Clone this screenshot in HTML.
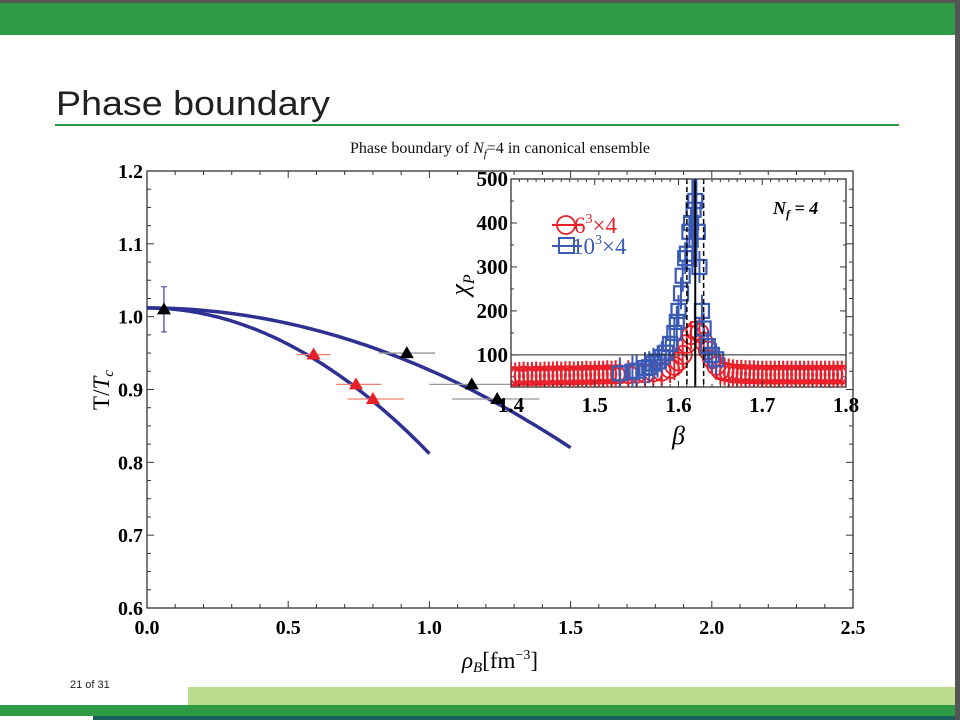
<!DOCTYPE html>
<html><head><meta charset="utf-8"><style>
body{margin:0;width:960px;height:720px;overflow:hidden;background:#fff;font-family:"Liberation Serif",serif}
svg text{font-family:"Liberation Serif",serif}
</style></head><body>
<svg id="s" width="960" height="720" viewBox="0 0 960 720" xmlns="http://www.w3.org/2000/svg">
<rect x="0" y="0" width="960" height="3" fill="#555"/>
<rect x="0" y="3" width="955" height="32" fill="#2f9a46"/>
<rect x="955" y="0" width="5" height="720" fill="#555"/>
<text x="56" y="115" font-size="34" fill="#222" style="font-family:'Liberation Sans',sans-serif" textLength="274" lengthAdjust="spacingAndGlyphs">Phase boundary</text>
<rect x="55" y="124" width="844" height="2" fill="#2f9a46"/>
<text x="500" y="153" font-size="16" text-anchor="middle" fill="#111">Phase boundary of <tspan font-style="italic">N</tspan><tspan font-style="italic" font-size="11" dy="4">f</tspan><tspan dy="-4">=4 in canonical ensemble</tspan></text>
<g id="main"></g>
<g id="inset"></g>
<text x="70" y="688" font-size="11" fill="#222" style="font-family:'Liberation Sans',sans-serif">21 of 31</text>
<rect x="188" y="687" width="767" height="18" fill="#bcdc8d"/>
<rect x="0" y="705" width="955" height="11" fill="#2f9a46"/>
<rect x="93" y="716" width="862" height="4" fill="#15605a"/>
</svg>
<script>
// Main chart data
const blackRho=[0.06,0.92,1.15,1.24];
const blackT=[1.01,0.95,0.907,0.887];
const blackXLo=[0.06,0.82,1.0,1.08];
const blackXHi=[0.06,1.02,1.4,1.39];
const blackYErr=[0.031,0,0,0];
const redRho=[0.59,0.74,0.80];
const redT=[0.948,0.907,0.887];
const redXLo=[0.53,0.67,0.71];
const redXHi=[0.65,0.83,0.91];
const fitT0=[1.012,1.012];
const fitA=[0.0853,0.2];
const fitEnd=[1.5,1.0];
const xTicks=["0.0","0.5","1.0","1.5","2.0","2.5"];
const yTicks=["0.6","0.7","0.8","0.9","1.0","1.1","1.2"];
// Inset data
const redBeta=[1.40,1.405,1.41,1.415,1.42,1.425,1.43,1.435,1.44,1.445,1.45,1.455,1.46,1.465,1.47,1.475,1.48,1.485,1.49,1.495,1.50,1.505,1.51,1.515,1.52,1.525,1.53,1.54,1.55,1.56,1.57,1.58,1.59,1.595,1.60,1.605,1.61,1.615,1.62,1.625,1.63,1.635,1.64,1.645,1.65,1.655,1.66,1.665,1.67,1.675,1.68,1.685,1.69,1.695,1.70,1.705,1.71,1.715,1.72,1.725,1.73,1.735,1.74,1.745,1.75,1.755,1.76,1.765,1.77,1.775,1.78,1.785,1.79,1.795,1.80];
const redChi=[52,51,52,53,52,52,53,52,53,53,53,54,53,54,54,53,54,54,55,54,55,55,55,56,55,56,56,56,57,58,60,62,68,75,85,100,125,145,155,150,130,110,90,75,65,62,60,58,57,57,56,56,56,55,55,55,55,55,55,55,55,55,55,55,55,55,55,55,55,55,55,55,55,55,55];
const blueBeta=[1.53,1.545,1.55,1.56,1.565,1.57,1.575,1.58,1.585,1.59,1.595,1.598,1.60,1.603,1.605,1.608,1.61,1.613,1.615,1.618,1.62,1.623,1.625,1.628,1.63,1.635,1.64,1.645];
const blueChi=[58,62,64,70,72,80,85,95,105,125,150,175,200,240,280,320,330,380,400,430,450,380,300,200,160,120,100,90];
const insXTicks=["1.4","1.5","1.6","1.7","1.8"];
const insYTicks=["100","200","300","400","500"];

const NS="http://www.w3.org/2000/svg";
function mk(p,t,a){const e=document.createElementNS(NS,t);for(const k in a)e.setAttribute(k,a[k]);p.appendChild(e);return e;}
const main=document.getElementById('main');
const X0=147,X1=853,Y0=608,Y1=171;
const sx=v=>X0+(v-0)/2.5*(X1-X0);
const sy=v=>Y0-(v-0.6)/0.6*(Y0-Y1);
let r=mk(main,'rect',{x:X0,y:Y1,width:X1-X0,height:Y0-Y1,fill:'none',stroke:'#333','stroke-width':1.3});


for(let i=0;i<=25;i++){const v=i*0.1,x=sx(v),L=i%5==0?7:4;
 mk(main,'line',{x1:x,y1:Y0,x2:x,y2:Y0-L,stroke:'#333'});mk(main,'line',{x1:x,y1:Y1,x2:x,y2:Y1+L,stroke:'#333'});}
for(let i=0;i<=24;i++){const v=0.6+i*0.025,y=sy(v),L=i%4==0?7:4;
 mk(main,'line',{x1:X0,y1:y,x2:X0+L,y2:y,stroke:'#333'});mk(main,'line',{x1:X1,y1:y,x2:X1-L,y2:y,stroke:'#333'});}
xTicks.forEach(t=>{const e=mk(main,'text',{x:sx(+t),y:Y0+26,'font-size':20,'font-weight':'bold','text-anchor':'middle'});e.textContent=t;
 
 });
yTicks.forEach(t=>{const e=mk(main,'text',{x:X0-4,y:sy(+t)+7,'font-size':20,'font-weight':'bold','text-anchor':'end'});e.textContent=t;
 
 });
let yt=mk(main,'text',{x:0,y:0,'font-size':23,transform:'translate(109,390) rotate(-90)','text-anchor':'middle'});
yt.innerHTML='T/<tspan font-style="italic">T</tspan><tspan font-style="italic" font-size="15" dy="4">c</tspan>';


let xt=mk(main,'text',{x:500,y:668,'font-size':23,'text-anchor':'middle'});
xt.innerHTML='<tspan font-style="italic">ρ</tspan><tspan font-style="italic" font-size="15" dy="4">B</tspan><tspan dy="-4">[fm</tspan><tspan font-size="14" dy="-9">−3</tspan><tspan dy="9">]</tspan>';


fitT0.forEach((t0,k)=>{let d='';for(let i=0;i<=60;i++){const rr=fitEnd[k]*i/60;d+=(i?'L':'M')+sx(rr).toFixed(1)+','+sy(t0-fitA[k]*rr*rr).toFixed(1);}
 const p=mk(main,'path',{d:d,fill:'none',stroke:'#2e3192','stroke-width':3.5});
 
 });
function tri(g,x,y,c){return mk(g,'path',{d:`M${x},${y-7}L${x+7},${y+5}L${x-7},${y+5}Z`,fill:c});}

// Inset
const ins=document.getElementById('inset');
const IX0=511,IX1=846,IY0=387,IY1=179;
const ix=v=>IX0+(v-1.4)/0.4*(IX1-IX0);
const iy=v=>IY0-(v-27)/(500-27)*(IY0-IY1);
let ib=mk(ins,'rect',{x:IX0,y:IY1,width:IX1-IX0,height:IY0-IY1,fill:'#fff',stroke:'#333','stroke-width':1.3});


blackRho.forEach((v,i)=>{
 if(blackXHi[i]>blackXLo[i]){mk(main,'line',{x1:sx(blackXLo[i]),x2:sx(blackXHi[i]),y1:sy(blackT[i]),y2:sy(blackT[i]),stroke:'#999','stroke-width':1.3});}
 if(blackYErr[i]>0){mk(main,'line',{x1:sx(v),x2:sx(v),y1:sy(blackT[i]-blackYErr[i]),y2:sy(blackT[i]+blackYErr[i]),stroke:'#3a3a9a','stroke-width':1.2});
  [-1,1].forEach(s=>mk(main,'line',{x1:sx(v)-3,x2:sx(v)+3,y1:sy(blackT[i]+s*blackYErr[i]),y2:sy(blackT[i]+s*blackYErr[i]),stroke:'#3a3a9a'}));}
 const t=tri(main,sx(v),sy(blackT[i]),'#000');
 
 });
redRho.forEach((v,i)=>{
 mk(main,'line',{x1:sx(redXLo[i]),x2:sx(redXHi[i]),y1:sy(redT[i]),y2:sy(redT[i]),stroke:'#f08070','stroke-width':1.3});
 const t=tri(main,sx(v),sy(redT[i]),'#e8202a');
 
 });
main.parentNode.appendChild(ins);
const cp=mk(ins,'clipPath',{id:'ic'});mk(cp,'rect',{x:IX0,y:IY1,width:IX1-IX0,height:IY0-IY1});
const ig=mk(ins,'g',{'clip-path':'url(#ic)'});
redBeta.forEach((b,i)=>{const x=ix(b),y=iy(redChi[i]);
 mk(ig,'line',{x1:x,x2:x,y1:y-14,y2:y+14,stroke:'#e8202a','stroke-width':2});
 const c=mk(ig,'circle',{cx:x,cy:y,r:9,fill:'none',stroke:'#e8202a','stroke-width':1.8});
 
 });
blueBeta.forEach((b,i)=>{const x=ix(b),y=iy(blueChi[i]);
 mk(ig,'line',{x1:x,x2:x,y1:y-16,y2:y+16,stroke:'#3b5bb5','stroke-width':2});
 const s=mk(ig,'rect',{x:x-7,y:y-7,width:14,height:14,fill:'none',stroke:'#3b5bb5','stroke-width':2.2});
 
 });
mk(ig,'line',{x1:ix(1.619),x2:ix(1.619),y1:IY1,y2:iy(300),stroke:'#3b5bb5','stroke-width':6});
mk(ins,'line',{x1:IX0,x2:IX1,y1:iy(100),y2:iy(100),stroke:'#222','stroke-width':1});
mk(ins,'line',{x1:ix(1.62),x2:ix(1.62),y1:IY1,y2:IY0,stroke:'#000','stroke-width':2});
[1.61,1.63].forEach(b=>mk(ins,'line',{x1:ix(b),x2:ix(b),y1:IY1,y2:IY0,stroke:'#000','stroke-width':1.5,'stroke-dasharray':'5,3'}));
for(let i=0;i<=40;i++){const x=ix(1.4+i*0.01),L=i%10==0?6:3;mk(ins,'line',{x1:x,x2:x,y1:IY1,y2:IY1+L,stroke:'#333'});mk(ins,'line',{x1:x,x2:x,y1:IY0,y2:IY0-L,stroke:'#333'});}
for(let v=50;v<=500;v+=50){const y=iy(v),L=v%100==0?6:3;mk(ins,'line',{x1:IX1,x2:IX1-L,y1:y,y2:y,stroke:'#333'});mk(ins,'line',{x1:IX0,x2:IX0+L,y1:y,y2:y,stroke:'#333'});}
insXTicks.forEach(t=>{const e=mk(ins,'text',{x:ix(+t),y:IY0+25,'font-size':21,'font-weight':'bold','text-anchor':'middle'});e.textContent=t;
 
 });
insYTicks.forEach(t=>{const e=mk(ins,'text',{x:IX0-3,y:iy(+t)+7,'font-size':21,'font-weight':'bold','text-anchor':'end'});e.textContent=t;
 
 });
let ixt=mk(ins,'text',{x:ix(1.6),y:444,'font-size':26,'font-style':'italic','text-anchor':'middle'});ixt.textContent='β';


let iyt=mk(ins,'text',{x:0,y:0,'font-size':26,transform:'translate(468,285) rotate(-90)','text-anchor':'middle','font-style':'italic'});
iyt.innerHTML='χ<tspan font-size="16" dy="6">P</tspan>';


let nf=mk(ins,'text',{x:773,y:214,'font-size':18,'font-weight':'bold','font-style':'italic'});
nf.innerHTML='N<tspan font-size="12" dy="4">f</tspan><tspan dy="-4"> = 4</tspan>';


mk(ins,'line',{x1:552,x2:582,y1:225,y2:225,stroke:'#e8202a','stroke-width':2});
mk(ins,'circle',{cx:566,cy:225,r:9,fill:'none',stroke:'#e8202a','stroke-width':1.8});
let l1=mk(ins,'text',{x:574,y:233,'font-size':23,fill:'#e8202a'});l1.innerHTML='6<tspan font-size="14" dy="-10">3</tspan><tspan dy="10">×4</tspan>';


mk(ins,'line',{x1:552,x2:582,y1:246,y2:246,stroke:'#3b5bb5','stroke-width':2});
mk(ins,'rect',{x:559,y:238,width:15,height:15,fill:'none',stroke:'#3b5bb5','stroke-width':2});
let l2=mk(ins,'text',{x:572,y:254,'font-size':23,fill:'#3b5bb5'});l2.innerHTML='10<tspan font-size="14" dy="-10">3</tspan><tspan dy="10">×4</tspan>';


</script>
</body></html>
